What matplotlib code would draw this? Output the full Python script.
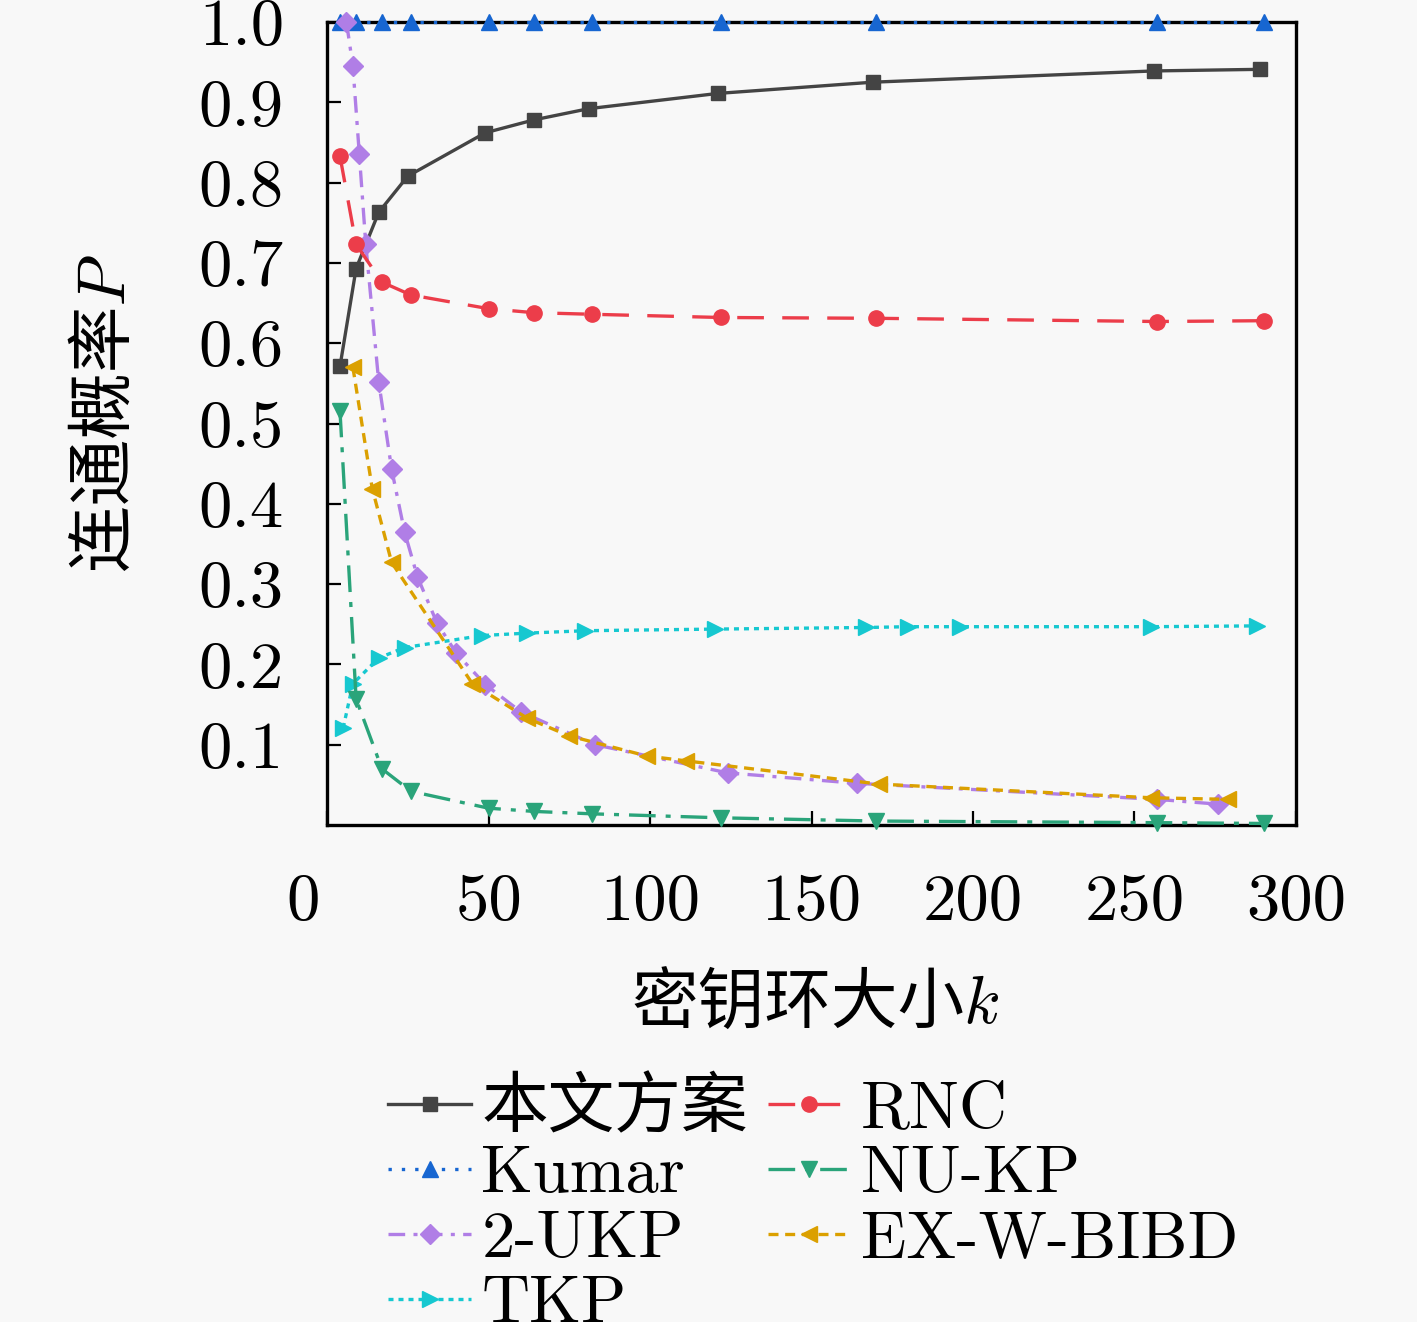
import matplotlib
matplotlib.use("Agg")
import matplotlib.pyplot as plt
import matplotlib.transforms as mtransforms

plt.rcParams['font.family'] = ['cmr10', 'Noto Sans CJK SC', 'DejaVu Sans']
plt.rcParams['mathtext.fontset'] = 'cm'
plt.rcParams['axes.unicode_minus'] = False

# ---------------------------------------------------------------------
# Data
# ---------------------------------------------------------------------
k_ours = [4, 9, 16, 25, 49, 64, 81, 121, 169, 256, 289]
p_ours = [0.571, 0.693, 0.763, 0.808, 0.862, 0.878, 0.892, 0.911, 0.925, 0.939, 0.941]

k_other = [4, 9, 17, 26, 50, 64, 82, 122, 170, 257, 290]
p_rnc = [0.833, 0.723, 0.676, 0.660, 0.643, 0.638, 0.636, 0.632, 0.631, 0.627, 0.628]
p_kumar = [1.0, 1.0, 1.0, 1.0, 1.0, 1.0, 1.0, 1.0, 1.0, 1.0, 1.0]
p_nukp = [0.516, 0.157, 0.070, 0.042, 0.021, 0.017, 0.014, 0.009, 0.005, 0.003, 0.002]

k_2ukp = [6, 8, 10, 12, 16, 20, 24, 28, 34, 40, 49, 60, 83, 124, 164, 257, 276]
p_2ukp = [1.0, 0.945, 0.835, 0.723, 0.552, 0.443, 0.365, 0.309, 0.252, 0.214,
          0.175, 0.141, 0.100, 0.065, 0.052, 0.032, 0.026]

k_exw = [8, 14, 20, 45, 62, 75, 99, 111, 171, 255, 279]
p_exw = [0.570, 0.419, 0.327, 0.176, 0.133, 0.111, 0.086, 0.080, 0.051, 0.034, 0.032]

k_tkp = [5, 8, 16, 24, 48, 62, 80, 120, 167, 180, 196, 255, 288]
p_tkp = [0.121, 0.176, 0.208, 0.221, 0.236, 0.239, 0.242, 0.244, 0.246, 0.247,
         0.247, 0.247, 0.248]

x_ticks = [0, 50, 100, 150, 200, 250, 300]
y_ticks = [0.1, 0.2, 0.3, 0.4, 0.5, 0.6, 0.7, 0.8, 0.9, 1.0]

# ---------------------------------------------------------------------
# Figure
# ---------------------------------------------------------------------
bg = '#f8f8f8'
fig = plt.figure(figsize=(14.17, 13.22), dpi=100, facecolor=bg)
ax = fig.add_axes([0.2308, 0.3759, 0.6838, 0.6075], facecolor=bg)

FS = 48
lw = 2.4

series = [
    ("本文方案", k_ours, p_ours, dict(color='#444444', ls='-', marker='s', ms=9.5)),
    ("Kumar", k_other, p_kumar, dict(color='#1766d1', ls=(0, (1, 3)), marker='^', ms=12)),
    ("2-UKP", k_2ukp, p_2ukp, dict(color='#b07ee6', ls=(0, (5, 2.5, 1.2, 2.5)), marker='D', ms=10.5)),
    ("TKP", k_tkp, p_tkp, dict(color='#16c8d0', ls=(0, (1.5, 1.5)), marker='>', ms=12)),
    ("RNC", k_other, p_rnc, dict(color='#ec3d4a', ls=(0, (8, 5.5)), marker='o', ms=11)),
    ("NU-KP", k_other, p_nukp, dict(color='#2aa47a', ls=(0, (8, 3, 1.5, 3)), marker='v', ms=12)),
    ("EX-W-BIBD", k_exw, p_exw, dict(color='#dba000', ls=(0, (3, 2)), marker='<', ms=12)),
]

handles = []
for label, xs, ys, st in series:
    ln, = ax.plot(xs, ys, color=st['color'], linestyle=st['ls'], linewidth=lw,
                  marker=st['marker'], markersize=st['ms'],
                  markerfacecolor=st['color'], markeredgecolor=st['color'],
                  clip_on=False, zorder=3, label=label)
    handles.append(ln)

ax.set_xlim(0, 300)
ax.set_ylim(0, 1.0)

ax.set_xticks(x_ticks)
ax.set_xticklabels([str(v) for v in x_ticks])
ax.set_yticks(y_ticks)
ax.set_yticklabels(['%.1f' % v for v in y_ticks])

ax.tick_params(axis='both', direction='in', length=10, width=1.6, labelsize=FS)
ax.tick_params(axis='x', pad=35)
ax.tick_params(axis='y', pad=31)

for sp in ax.spines.values():
    sp.set_linewidth(2.4)

# the "0" of the x axis sits left of the origin in the reference
zero_lbl = ax.get_xticklabels()[0]
zero_lbl.set_transform(zero_lbl.get_transform() +
                       mtransforms.ScaledTranslation(-0.24, 0, fig.dpi_scale_trans))

# italic k / P come from cmmi10, the Chinese falls through to Noto Sans CJK
label_family = ['cmmi10', 'Noto Sans CJK SC']
ax.set_xlabel('密钥环大小k', fontsize=FS, va='center', family=label_family)
ax.xaxis.set_label_coords(0.5036, -0.224)
ax.set_ylabel('连通概率P', fontsize=FS, va='center', family=label_family)
ax.yaxis.set_label_coords(-0.229, 0.51)

fig.legend(handles, [h.get_label() for h in handles], ncol=2,
           loc='upper left', bbox_to_anchor=(388 / 1417, 1 - 1078 / 1322),
           frameon=False, fontsize=FS, borderpad=0, borderaxespad=0,
           handlelength=1.25, handletextpad=0.15, columnspacing=0.3,
           labelspacing=0.08)

fig.savefig('out.png', dpi=100, facecolor=bg)
